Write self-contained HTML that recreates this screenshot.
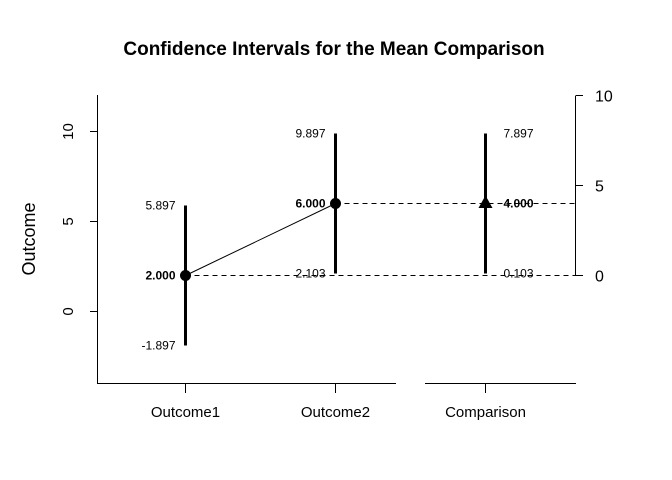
<!DOCTYPE html>
<html><head><meta charset="utf-8"><style>
body{margin:0;background:#fff}
svg{display:block;font-family:"Liberation Sans",Arial,sans-serif}
</style></head><body>
<svg id="chart" width="672" height="480" viewBox="0 0 672 480" xmlns="http://www.w3.org/2000/svg" shape-rendering="crispEdges">
<rect width="672" height="480" fill="#fff"/>
<text x="334" y="55" text-anchor="middle" font-size="19" font-weight="bold">Confidence Intervals for the Mean Comparison</text>
<text transform="translate(35,239) rotate(-90)" text-anchor="middle" font-size="18">Outcome</text>
<g id="g"></g>
</svg>
<script>
const categories = ["Outcome1","Outcome2"];
const means = [2, 6];
const lowers = [-1.897, 2.103];
const uppers = [5.897, 9.897];
const diffMean = 4;
const diffLower = 0.103;
const diffUpper = 7.897;
const leftTicks = [0,5,10];
const rightTicks = [0,5,10];
const diffLabel = "Comparison";

const NS="http://www.w3.org/2000/svg";
const g=document.getElementById('g');
const yL=v=>Math.round(311-18*v)+0.5;
const yR=v=>Math.round(275-18*v)+0.5;
const xPos=i=>185+150*i+0.5;
function el(t,a,txt){const e=document.createElementNS(NS,t);for(const k in a)e.setAttribute(k,a[k]);if(txt!==undefined)e.textContent=txt;g.appendChild(e);return e;}
function fmt(v){return v.toFixed(3);}

let e;
e=el('line',{x1:97.5,y1:95,x2:97.5,y2:383,stroke:'#000'});


leftTicks.forEach(t=>{
  el('line',{x1:90,y1:yL(t),x2:97,y2:yL(t),stroke:'#000'});
  e=el('text',{transform:`translate(73,${yL(t)}) rotate(-90)`,'text-anchor':'middle','font-size':15,'shape-rendering':'auto'},String(t));
  
  
});
e=el('line',{x1:97,y1:383.5,x2:396,y2:383.5,stroke:'#000'});


e=el('line',{x1:425,y1:383.5,x2:576,y2:383.5,stroke:'#000'});


e=el('line',{x1:575.5,y1:yR(10),x2:575.5,y2:yR(0),stroke:'#000'});


rightTicks.forEach(t=>{
  el('line',{x1:576,y1:yR(t),x2:583,y2:yR(t),stroke:'#000'});
  e=el('text',{x:595,y:yR(t)+6,'font-size':16},String(t));
  
  
});
const labels=categories.concat([diffLabel]);
labels.forEach((c,i)=>{
  el('line',{x1:xPos(i),y1:383,x2:xPos(i),y2:393,stroke:'#000'});
  e=el('text',{x:xPos(i),y:417,'text-anchor':'middle','font-size':15},c);
  
  
});

e=el('line',{x1:xPos(0),y1:yL(means[0]),x2:576,y2:yL(means[0]),stroke:'#000','stroke-dasharray':'5,4'});


e=el('line',{x1:xPos(1),y1:yL(means[1]),x2:576,y2:yL(means[1]),stroke:'#000','stroke-dasharray':'5,4'});


e=el('line',{x1:xPos(0),y1:yL(means[0]),x2:xPos(1),y2:yL(means[1]),stroke:'#000','stroke-width':1,'shape-rendering':'auto'});



means.forEach((m,i)=>{
  const x=xPos(i);
  e=el('line',{x1:x,y1:yL(lowers[i]),x2:x,y2:yL(uppers[i]),stroke:'#000','stroke-width':3});
  
  
  e=el('circle',{cx:x,cy:yL(m),r:5.5,fill:'#000','shape-rendering':'auto'});
  
  
  [[uppers[i],'normal'],[m,'bold'],[lowers[i],'normal']].forEach(([v,w])=>{
    e=el('text',{x:x-10,y:yL(v)+4,'text-anchor':'end','font-size':12,'font-weight':w},fmt(v));
    
    
  });
});
const xc=xPos(2);
e=el('line',{x1:xc,y1:yR(diffLower),x2:xc,y2:yR(diffUpper),stroke:'#000','stroke-width':3});


const ym=yR(diffMean);
e=el('polygon',{points:`${xc},${ym-8} ${xc-7},${ym+4.5} ${xc+7},${ym+4.5}`,fill:'#000','shape-rendering':'auto'});


[[diffUpper,'normal'],[diffMean,'bold'],[diffLower,'normal']].forEach(([v,w])=>{
  e=el('text',{x:xc+18,y:yR(v)+4,'font-size':12,'font-weight':w},fmt(v));
  
  
});
</script>
</body></html>
